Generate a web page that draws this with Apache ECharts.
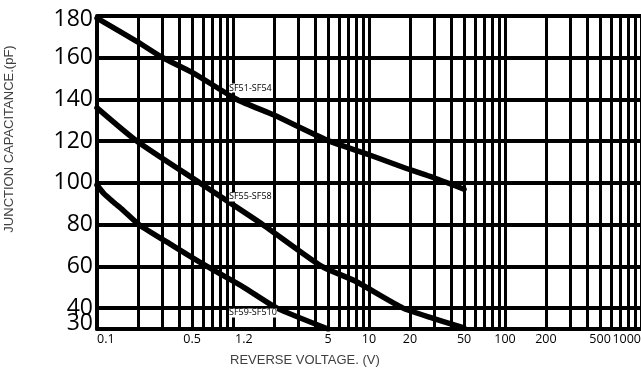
<!DOCTYPE html>
<html>
<head>
<meta charset="utf-8">
<script src="https://cdn.jsdelivr.net/npm/echarts@6/dist/echarts.min.js"></script>
<style>
  html, body { margin: 0; padding: 0; background: #fff; }
  #chart { width: 641px; height: 370px; }
</style>
</head>
<body>
<div id="chart"></div>
<script>
// Reverse voltage (V) against junction capacitance (pF), three device groups.
const seriesNames = ['SF51-SF54', 'SF55-SF58', 'SF59-SF510'];

const voltsA = [0.1, 0.2, 0.305, 0.5, 1.07, 2, 4.9, 10, 17.8, 30, 50];
const capA   = [179, 167.5, 160, 153, 140, 132.5, 120.5, 113.5, 107.5, 102.5, 97];

const voltsB = [0.1, 0.197, 0.571, 1.66, 4.5, 7.9, 17.8, 30, 50];
const capB   = [136, 120, 100, 80, 60, 53, 40, 35, 30.5];

const voltsC = [0.1, 0.112, 0.131, 0.155, 0.204, 0.36, 0.644, 1.2, 2.11, 5];
const capC   = [99, 95, 91, 87, 80, 70, 60, 50, 40, 30];

// Where each group's name sits (volts, pF)
const nameAnchors = [[0.935, 145.5], [0.935, 93.3], [0.935, 37.7]];

// Axis ticks and grid
const xTickLabels = [0.1, 0.5, 1.2, 5, 10, 20, 50, 100, 200, 500, 1000];
const xGridValues = [];
[0.1, 1, 10, 100].forEach(d => { for (let k = 1; k <= 9; k++) xGridValues.push(+(k * d).toPrecision(3)); });
xGridValues.push(1000);
const yTickValues = [30, 40, 60, 80, 100, 120, 140, 160, 180];

const pairs = (xs, ys) => xs.map((x, i) => [x, ys[i]]);
const curves = [pairs(voltsA, capA), pairs(voltsB, capB), pairs(voltsC, capC)];

const chart = echarts.init(document.getElementById('chart'), null, { renderer: 'canvas' });

const yFont = { fontFamily: 'Open Sans', fontSize: 23, color: '#000' };

// The lowest tick sits close to the next one, so its label is lifted slightly
// and drawn by an overlaid axis of the same range.
const yMin = yTickValues[0];
const yMax = yTickValues[yTickValues.length - 1];

chart.setOption({
  animation: false,
  backgroundColor: '#ffffff',
  grid: { left: 97, right: 0, top: 16, bottom: 41, containLabel: false, outerBoundsMode: 'none' },
  xAxis: {
    type: 'log',
    logBase: 10,
    min: 0.1,
    max: 1000,
    axisLine: { show: true, lineStyle: { color: '#000', width: 4 } },
    axisTick: { show: false, customValues: xGridValues },
    splitLine: { show: true, lineStyle: { color: '#000', width: 3 } },
    axisLabel: {
      customValues: xTickLabels,
      color: '#000',
      fontFamily: 'Open Sans',
      fontSize: 12.5,
      margin: 4,
      hideOverlap: false,
      showMinLabel: true,
      showMaxLabel: true,
      alignMinLabel: 'left',
      alignMaxLabel: 'right',
      formatter: v => String(v)
    }
  },
  yAxis: [
    {
      type: 'value',
      min: yMin,
      max: yMax,
      axisLine: { show: true, lineStyle: { color: '#000', width: 4 } },
      axisTick: { show: false, customValues: yTickValues },
      splitLine: { show: true, lineStyle: { color: '#000', width: 4 } },
      axisLabel: Object.assign({
        customValues: yTickValues.slice(1),
        margin: 4,
        hideOverlap: false,
        formatter: v => (v === yMax ? '{hi|' + v + '}' : String(v)),
        rich: { hi: Object.assign({ padding: [6, 0, 0, 0] }, yFont) }
      }, yFont)
    },
    {
      type: 'value',
      position: 'left',
      min: yMin,
      max: yMax,
      axisLine: { show: false },
      axisTick: { show: false, customValues: [yMin] },
      splitLine: { show: false },
      axisLabel: Object.assign({
        customValues: [yMin],
        margin: 4,
        showMinLabel: true,
        formatter: v => '{lo|' + v + '}',
        rich: { lo: Object.assign({ padding: [0, 0, 12, 0] }, yFont) }
      }, yFont)
    }
  ],
  graphic: [
    {
      type: 'text',
      left: 230,
      top: 354,
      style: { text: 'REVERSE VOLTAGE. (V)', fill: '#404040', font: '13px "Liberation Sans", Arial, sans-serif' }
    },
    {
      type: 'text',
      x: 3,
      y: 139,
      rotation: Math.PI / 2,
      style: {
        text: 'JUNCTION CAPACITANCE.(pF)', fill: '#404040',
        font: '13px "Liberation Sans", Arial, sans-serif', align: 'center', verticalAlign: 'top'
      }
    }
  ],
  series: curves.map((data, i) => ({
    name: seriesNames[i],
    type: 'line',
    data: data,
    smooth: 0.2,
    showSymbol: false,
    symbol: 'none',
    lineStyle: { color: '#000', width: 5.5, cap: 'round', join: 'round' },
    markPoint: {
      symbol: 'circle',
      symbolSize: 0,
      data: [{ coord: nameAnchors[i] }],
      label: {
        show: true,
        position: 'right',
        distance: 0,
        formatter: seriesNames[i],
        color: '#000',
        fontFamily: 'Open Sans',
        fontSize: 9,
        backgroundColor: '#fff'
      }
    },
    z: 3
  }))
});
</script>
</body>
</html>
